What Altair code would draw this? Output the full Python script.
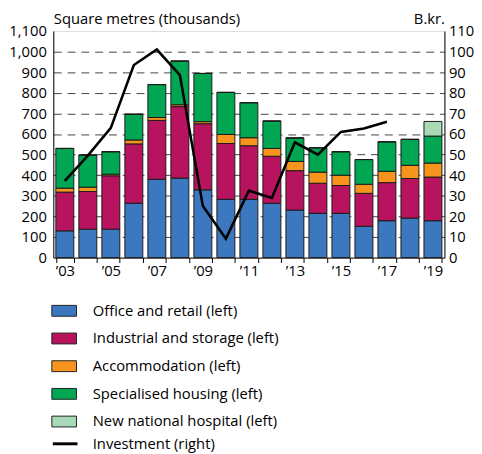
import altair as alt
import pandas as pd

years = [str(y) for y in range(2003, 2020)]
office = [130, 138, 138, 264, 380, 386, 329, 283, 283, 264, 231, 215, 215, 152, 179, 192, 179]
industrial = [188, 183, 259, 288, 286, 347, 321, 271, 260, 228, 191, 146, 135, 160, 185, 192, 212]
accommodation = [19, 21, 8, 19, 14, 9, 10, 44, 39, 38, 45, 54, 50, 44, 55, 64, 68]
specialised = [193, 156, 109, 125, 160, 212, 234, 204, 170, 133, 114, 118, 114, 120, 143, 126, 131]
hospital = [0] * 16 + [71]
inv_years = [str(y) for y in range(2003, 2018)]
investment = [37.2, 49.5, 63, 93.5, 101, 88.6, 25, 9.2, 32.5, 29, 56, 50, 61, 62.7, 66]

cats = ["Office and retail (left)", "Industrial and storage (left)", "Accommodation (left)",
        "Specialised housing (left)", "New national hospital (left)"]
colors = ["#3b78bf", "#b8135f", "#f7941e", "#00a652", "#a9dab6"]
series = [office, industrial, accommodation, specialised, hospital]

rows = []
for ci, (c, vals) in enumerate(zip(cats, series)):
    for y, v in zip(years, vals):
        rows.append({"year": y, "cat": c, "val": v, "ord": ci})
bars_df = pd.DataFrame(rows)
line_df = pd.DataFrame({"year": inv_years, "inv": investment})

FONT = "Open Sans"
FS = 15

x_enc = alt.X("year:O", sort=years,
              scale=alt.Scale(paddingInner=0.22, paddingOuter=0.11),
              axis=alt.Axis(title=None, tickBand="extent", tickSize=5, tickColor="black",
                            domainColor="black", labelAngle=0, labelPadding=1,
                            labelExpr="toNumber(datum.value) % 2 == 1 ? '\u2019' + substring(datum.value, 2, 4) : ''"))

bars = alt.Chart(bars_df).mark_bar(stroke="#1a1a1a", strokeWidth=1).encode(
    x=x_enc,
    y=alt.Y("sum(val):Q", stack="zero",
            scale=alt.Scale(domain=[0, 1100], nice=False),
            axis=alt.Axis(title="Square metres (thousands)", titleAngle=0, titleAlign="left",
                          titleBaseline="bottom", titleX=0, titleY=-5, titleFontWeight="normal",
                          values=list(range(0, 1101, 100)), format=",d", ticks=False,
                          grid=True, gridDash=[8, 6], gridColor="#444",
                          gridOpacity={"condition": {"test": "datum.value >= 1100 || datum.value <= 0", "value": 0}, "value": 1},
                          domainColor="black", labelPadding=7)),
    fill=alt.Color("cat:N", scale=alt.Scale(domain=cats, range=colors),
                   legend=alt.Legend(title=None, orient="none", legendX=-2, legendY=271,
                                     direction="vertical", labelLimit=0,
                                     symbolType="M-1,-0.44H1V0.44H-1Z", symbolSize=625,
                                     symbolStrokeColor="#222", symbolStrokeWidth=1,
                                     symbolOpacity=1, rowPadding=7.1, labelOffset=16)),
    order=alt.Order("ord:Q"),
)

line = alt.Chart(line_df).mark_line(strokeWidth=2.6).encode(
    x=alt.X("year:O", sort=years),
    y=alt.Y("inv:Q", scale=alt.Scale(domain=[0, 110], nice=False),
            axis=alt.Axis(title="B.kr.", orient="right", titleAngle=0, titleAlign="right",
                          titleBaseline="bottom", titleX=0, titleY=-5, titleFontWeight="normal",
                          values=list(range(0, 111, 10)), ticks=False, grid=False,
                          domainColor="black", labelPadding=4)),
    stroke=alt.Stroke("lbl:N", scale=alt.Scale(domain=["Investment (right)"], range=["black"]),
                      legend=alt.Legend(title=None, orient="none", legendX=-2, legendY=405,
                                        labelLimit=0,
                                        symbolType="stroke", symbolSize=625, symbolStrokeWidth=3,
                                        labelOffset=14)),
).transform_calculate(lbl="'Investment (right)'")

chart = alt.layer(bars, line).resolve_scale(y="independent").properties(
    width=397, height=230, padding={"left": 0, "top": 0, "right": 0, "bottom": 0}
).configure_view(stroke=None).configure(font=FONT).configure_axis(
    labelFont=FONT, labelFontSize=FS, labelColor="black", titleFont=FONT, titleFontSize=FS,
    titleColor="black"
).configure_legend(labelFont=FONT, labelFontSize=FS, labelColor="black")

chart.save("out.html", embed_options={"renderer": "svg", "actions": False})
